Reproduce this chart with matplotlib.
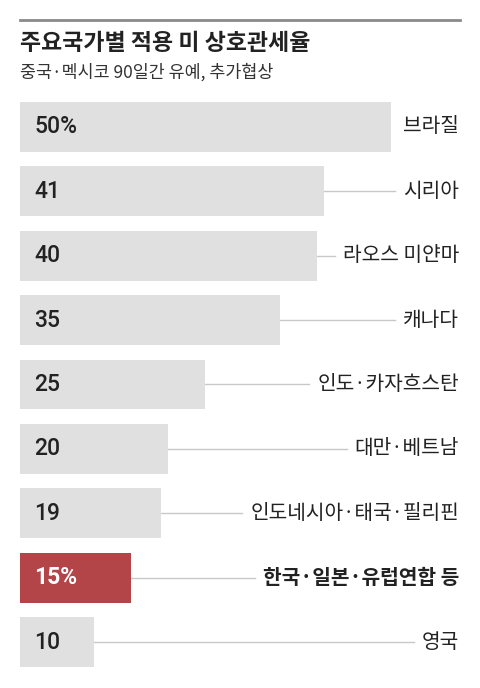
import matplotlib.pyplot as plt
from matplotlib import font_manager

plt.rcParams['font.family'] = ['Noto Sans CJK KR', 'DejaVu Sans']

names = ["브라질", "시리아", "라오스 미얀마", "캐나다", "인도·카자흐스탄",
         "대만·베트남", "인도네시아·태국·필리핀", "한국·일본·유럽연합 등", "영국"]
rates = [50, 41, 40, 35, 25, 20, 19, 15, 10]
rate_labels = ["50%", "41", "40", "35", "25", "20", "19", "15%", "10"]
highlight = "한국·일본·유럽연합 등"

installed = {f.name for f in font_manager.fontManager.ttflist}
num_font = [f for f in ['Liberation Sans Narrow', 'Roboto', 'DejaVu Sans'] if f in installed] or ['DejaVu Sans']

W, H = 480, 688
fig = plt.figure(figsize=(W / 100, H / 100), dpi=100)

# axes in pixel geometry: x from 20 to 460, bar rows from ~95 to ~674
px_per_unit = 7.42
left, right = 20, 460
top, bottom = 94.8, 674.2
ax = fig.add_axes([left / W, 1 - bottom / H, (right - left) / W, (bottom - top) / H])
ax.set_xlim(0, (right - left) / px_per_unit)
ax.set_ylim(len(names) - 0.5, -0.5)
ax.axis('off')

colors = ['#b34447' if n == highlight else '#e0e0e0' for n in names]
ypos = list(range(len(names)))
ax.barh(ypos, rates, height=0.776, color=colors, zorder=2)

xmax = (right - left) / px_per_unit - 0.15
label_objs = []
for i, (n, r, lab) in enumerate(zip(names, rates, rate_labels)):
    hl = n == highlight
    ax.text(1.9, i, lab, ha='left', va='center', fontsize=16.5,
            family=num_font, fontweight='bold' if hl else 'medium',
            color='white' if hl else '#222222', zorder=3)
    t = ax.text(xmax, i, n, ha='right', va='center', fontsize=14.6,
                fontweight='bold' if hl else 'normal', color='#222222', zorder=3)
    label_objs.append(t)

# leader lines from bar end to label (skip when gap is tiny)
fig.canvas.draw()
renderer = fig.canvas.get_renderer()
inv = ax.transData.inverted()
for i, (r, t) in enumerate(zip(rates, label_objs)):
    bb = t.get_window_extent(renderer)
    x0 = inv.transform((bb.x0 - 8, 0))[0]
    if x0 - r > 6 / px_per_unit:
        ax.plot([r, x0], [i, i], color='#c8c8c8', lw=1.0, zorder=1)

# header
fig.add_artist(plt.Line2D([20 / W, 460 / W], [1 - 20 / H, 1 - 20 / H],
                          color='#8a8a8a', lw=2))
fig.text(20 / W, 1 - 43 / H, "주요국가별 적용 미 상호관세율", ha='left', va='center',
         fontsize=16.5, fontweight='bold', color='#222222')
fig.text(20 / W, 1 - 72 / H, "중국·멕시코 90일간 유예, 추가협상", ha='left', va='center',
         fontsize=12.5, color='#333333')

fig.savefig("out.png", dpi=100, facecolor='white')
